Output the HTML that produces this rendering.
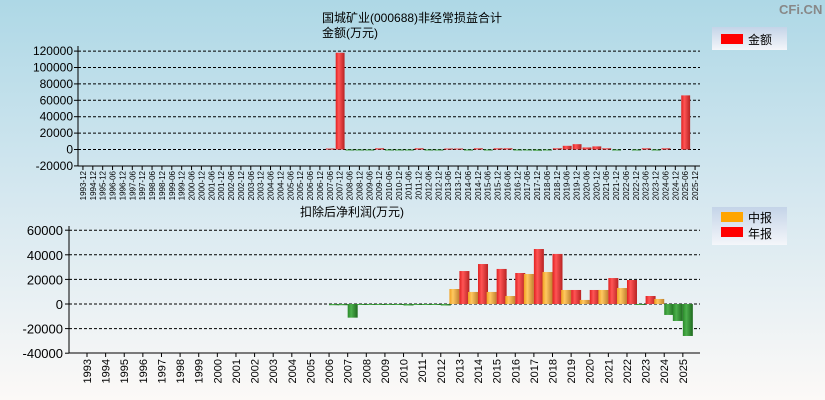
<!DOCTYPE html>
<html><head><meta charset="utf-8"><style>
body{margin:0;width:825px;height:400px;overflow:hidden;font-family:"Liberation Sans","Noto Sans CJK SC",sans-serif;}
svg{display:block}
</style></head><body>
<svg width="825" height="400" id="svg" xmlns="http://www.w3.org/2000/svg" font-family="Liberation Sans, Noto Sans CJK SC, sans-serif">
<defs>
<linearGradient id="bg" x1="0" y1="0" x2="0" y2="1"><stop offset="0" stop-color="#aed8e6"/><stop offset="0.5" stop-color="#d6e8f0"/><stop offset="1" stop-color="#fcf9f7"/></linearGradient>
<linearGradient id="gr" x1="0" x2="1"><stop offset="0" stop-color="#e02020"/><stop offset="0.35" stop-color="#ff5555"/><stop offset="1" stop-color="#b82222"/></linearGradient>
<linearGradient id="gg" x1="0" x2="1"><stop offset="0" stop-color="#2a8a2a"/><stop offset="0.35" stop-color="#4caf4c"/><stop offset="1" stop-color="#1f6a1f"/></linearGradient>
<linearGradient id="go" x1="0" x2="1"><stop offset="0" stop-color="#f0a020"/><stop offset="0.35" stop-color="#ffc860"/><stop offset="1" stop-color="#c08030"/></linearGradient>
<linearGradient id="lg" x1="0" y1="0" x2="0" y2="1"><stop offset="0" stop-color="#c4d4e8"/><stop offset="1" stop-color="#f4f6fa"/></linearGradient>
</defs>
<rect width="825" height="400" fill="url(#bg)"/>
<text x="779" y="14" font-size="13" fill="#888" font-weight="bold">CFi.CN</text>
<text x="322" y="22" font-size="12">国城矿业(000688)非经常损益合计</text>
<text x="322" y="37" font-size="12">金额(万元)</text>
<g>
<rect x="712" y="27" width="75" height="23" fill="url(#lg)"/>
<rect x="721" y="34" width="22" height="10" fill="#ff0000"/>
<text x="748" y="44" font-size="12">金额</text>
</g>
<text x="300" y="216" font-size="12">扣除后净利润(万元)</text>
<g>
<rect x="712" y="207" width="75" height="38" fill="url(#lg)"/>
<rect x="721" y="212" width="22" height="10" fill="#ffa500"/>
<text x="748" y="222" font-size="12">中报</text>
<rect x="721" y="227" width="22" height="10" fill="#ff0000"/>
<text x="748" y="238" font-size="12">年报</text>
</g>
<g id="top"></g>
<g id="bot"></g>
</svg>
<script>
const topLabels = ["1993-12","1994-12","1995-12"];
for(let y=1996;y<=2025;y++){topLabels.push(y+"-06");topLabels.push(y+"-12");}
const topValues = [0,0,0,0,0,0,0,0,0,0,0,0,0,0,0,0,0,0,0,0,0,0,0,0,0,
1200,118000,-500,-800,-300,1500,-600,-800,-700,1500,-300,-200,1200,1200,-500,1500,-500,1500,1500,-800,-1200,-1500,-800,1500,4500,6500,2500,3800,1500,-500,0,-500,1500,-800,1500,0,66000,0];
const topTicks = [120000,100000,80000,60000,40000,20000,0,-20000];
const botYears = [];
for(let y=1993;y<=2025;y++)botYears.push(String(y));
const botMid = [0,0,0,0,0,0,0,0,0,0,0,0,0,0,-1000,-500,-500,-500,-500,-500,12200,9800,9800,6500,24400,26000,11400,3300,11400,13000,-800,4100,-13800];
const botAnnual = [0,0,0,0,0,0,0,0,0,0,0,0,0,-1000,-11100,-800,-800,-1200,-800,-1200,26800,32500,28500,25200,44700,40700,11400,11400,21100,19500,6500,-8900,-26000];
const botTicks = [60000,40000,20000,0,-20000,-40000];
const NS="http://www.w3.org/2000/svg";
function mk(p,t,a){const e=document.createElementNS(NS,t);for(const k in a)e.setAttribute(k,a[k]);p.appendChild(e);return e;}
// top chart
const T=document.getElementById('top');
const tx0=78,tx1=700,ty=v=>149.5-v*16.4/20000;
const tw=(tx1-tx0)/topLabels.length;
topTicks.forEach(v=>{
 if(v!==-20000){const l=mk(T,'line',{x1:tx0,x2:tx1,y1:ty(v),y2:ty(v),stroke:'#000','stroke-dasharray':'3,2','stroke-width':1});
 
 }
 mk(T,'line',{x1:tx0-4,x2:tx0,y1:ty(v),y2:ty(v),stroke:'#000'});
 const t=mk(T,'text',{x:tx0-5,y:ty(v)+4,'font-size':12,'text-anchor':'end'});t.textContent=v;
 
 
});
topValues.forEach((v,i)=>{
 if(v===0)return;
 const x=tx0+i*tw+1,y0=ty(0),y1=ty(v);
 const r=mk(T,'rect',{x:x,width:tw-1,y:Math.min(y0,y1),height:Math.max(1,Math.abs(y1-y0)),fill:v>0?'url(#gr)':'url(#gg)'});
 
 
});
topLabels.forEach((s,i)=>{
 const cx=tx0+(i+0.5)*tw;
 mk(T,'line',{x1:cx,x2:cx,y1:166,y2:170,stroke:'#000'});
 const t=mk(T,'text',{transform:`translate(${cx+3},171) rotate(-90)`,'font-size':8,'text-anchor':'end'});t.textContent=s;
 
 
});
mk(T,'line',{x1:tx0,x2:tx0,y1:46,y2:166,stroke:'#000'});
mk(T,'line',{x1:tx0,x2:tx1,y1:166,y2:166,stroke:'#000'});
// bottom chart
const B=document.getElementById('bot');
const bx0=69,bx1=700,by=v=>304-v*24.6/20000;
const c0=87,cs=18.62;
botTicks.forEach(v=>{
 if(v!==-40000){const l=mk(B,'line',{x1:bx0,x2:bx1,y1:by(v),y2:by(v),stroke:'#000','stroke-dasharray':'3,2'});
 
 }
 mk(B,'line',{x1:bx0-4,x2:bx0,y1:by(v),y2:by(v),stroke:'#000'});
 const t=mk(B,'text',{x:bx0-6,y:by(v)+5,'font-size':13,'text-anchor':'end'});t.textContent=v;
 
 
});
botYears.forEach((s,i)=>{
 const cx=c0+i*cs;
 [[botMid[i],-10,'url(#go)'],[botAnnual[i],0,'url(#gr)']].forEach(([v,off,f])=>{
  if(v===0)return;
  const y0=by(0),y1=by(v);
  const r=mk(B,'rect',{x:cx+off,width:10,y:Math.min(y0,y1),height:Math.max(1,Math.abs(y1-y0)),fill:v>0?f:'url(#gg)'});
  
  
 });
 mk(B,'line',{x1:cx,x2:cx,y1:353,y2:357,stroke:'#000'});
 const t=mk(B,'text',{transform:`translate(${cx+4},359) rotate(-90)`,'font-size':11,'text-anchor':'end'});t.textContent=s;
 
 
});
mk(B,'line',{x1:bx0,x2:bx0,y1:226,y2:353,stroke:'#000'});
mk(B,'line',{x1:bx0,x2:bx1,y1:353,y2:353,stroke:'#000'});
</script>
</body></html>
